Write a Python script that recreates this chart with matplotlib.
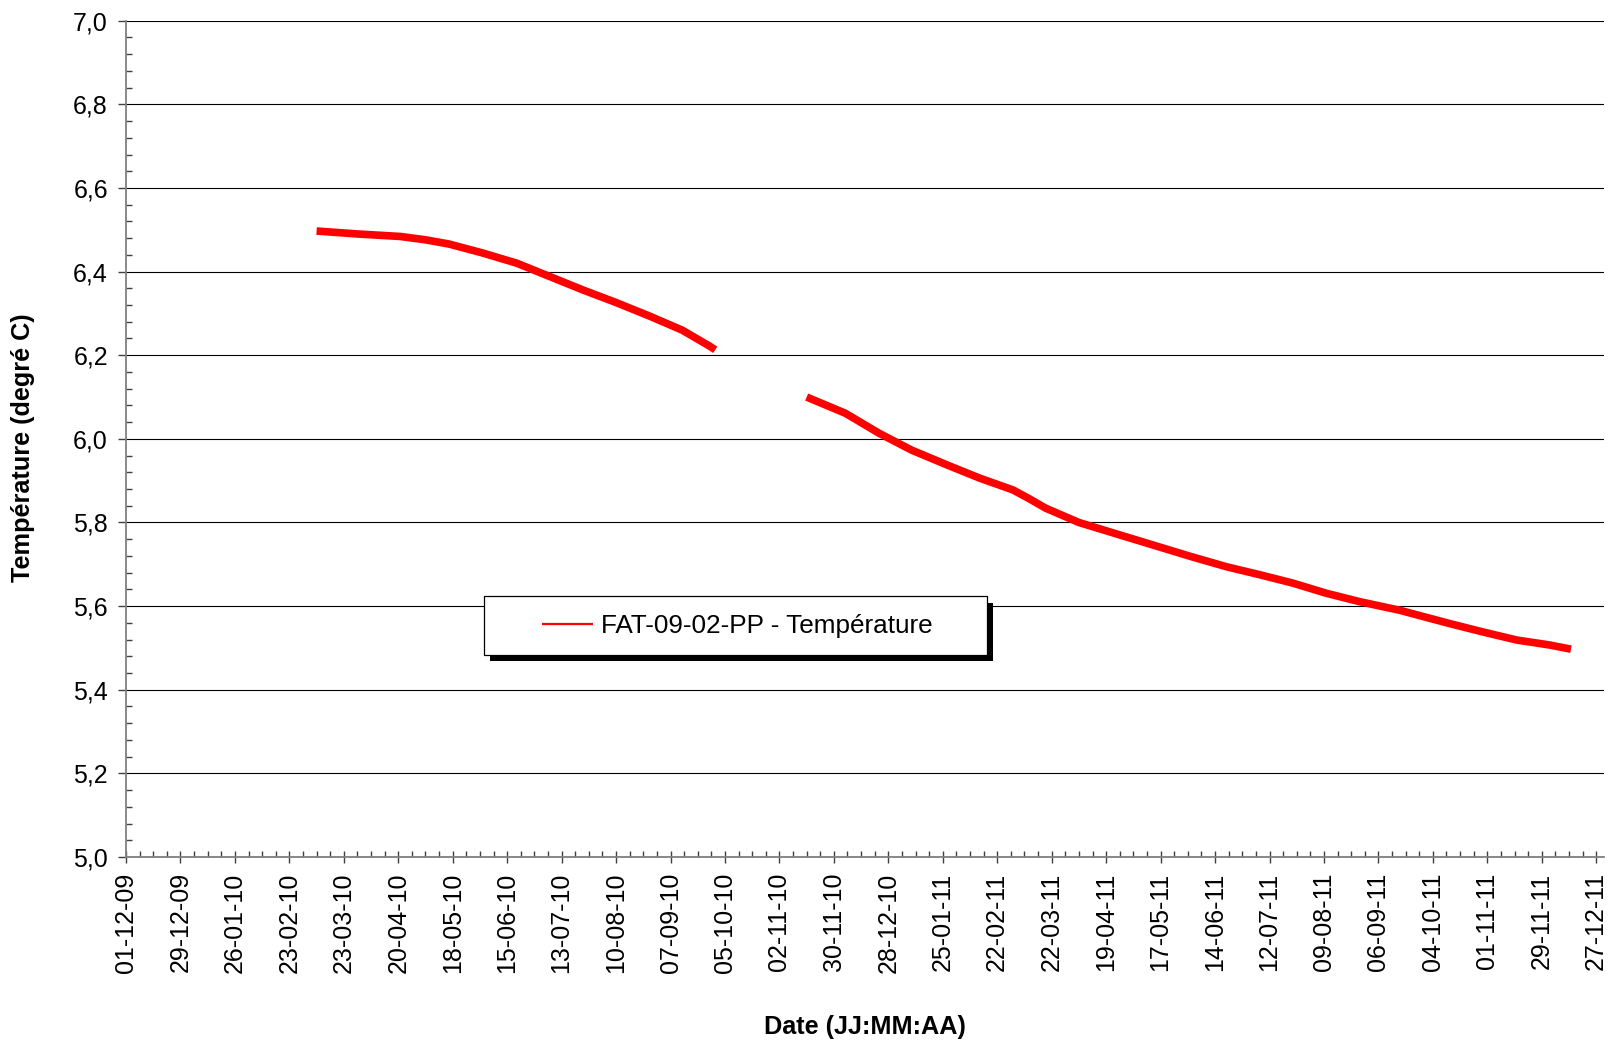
import matplotlib
matplotlib.use("Agg")
import matplotlib.pyplot as plt
import matplotlib.dates as mdates
from matplotlib.patches import Rectangle
from matplotlib.ticker import FuncFormatter
import numpy as np
import pandas as pd

plt.rcParams['font.family'] = ['Liberation Sans', 'DejaVu Sans']

# Probe temperature readings (degrees C), two logging periods
series_label = "FAT-09-02-PP - Température"

dates_p1 = ["2010-03-09", "2010-03-30", "2010-04-21", "2010-05-04", "2010-05-16",
            "2010-06-02", "2010-06-20", "2010-07-07", "2010-07-24", "2010-08-10",
            "2010-08-27", "2010-09-13", "2010-09-27", "2010-09-30"]
temps_p1 = [6.497, 6.490, 6.484, 6.476, 6.466,
            6.445, 6.420, 6.388, 6.356, 6.326,
            6.294, 6.260, 6.222, 6.213]

dates_p2 = ["2010-11-16", "2010-12-06", "2010-12-23", "2011-01-09", "2011-01-27",
            "2011-02-13", "2011-03-02", "2011-03-10", "2011-03-19", "2011-04-05",
            "2011-04-29", "2011-05-16", "2011-06-02", "2011-06-20", "2011-07-07",
            "2011-07-24", "2011-08-10", "2011-08-27", "2011-09-17", "2011-10-12",
            "2011-10-29", "2011-11-16", "2011-12-03", "2011-12-14"]
temps_p2 = [6.100, 6.061, 6.014, 5.973, 5.938,
            5.906, 5.878, 5.858, 5.834, 5.800,
            5.766, 5.742, 5.718, 5.694, 5.675,
            5.655, 5.631, 5.611, 5.590, 5.559,
            5.539, 5.519, 5.507, 5.497]

x_start, x_end = "2009-12-01", "2011-12-31"
y_min, y_max = 5.0, 7.0

major_dates = pd.date_range(x_start, periods=28, freq="28D")
minor_dates = pd.date_range(x_start, x_end, freq="7D")

fig = plt.figure(figsize=(16.10, 10.43), dpi=100)
ax = fig.add_axes([126 / 1610, 1 - 857 / 1043, 1478 / 1610, 836.3 / 1043])

red = "#FF0000"
line1, = ax.plot(pd.to_datetime(dates_p1), temps_p1, color=red, lw=5.5,
                 solid_capstyle="butt", solid_joinstyle="round",
                 label=series_label, zorder=3)
ax.plot(pd.to_datetime(dates_p2), temps_p2, color=red, lw=5.5,
        solid_capstyle="butt", solid_joinstyle="round", zorder=3)

ax.set_xlim(pd.Timestamp(x_start), pd.Timestamp(x_end))
ax.set_ylim(y_min, y_max)

ax.set_xticks(major_dates)
ax.set_xticks(minor_dates, minor=True)
ax.xaxis.set_major_formatter(mdates.DateFormatter("%d-%m-%y"))

ax.set_yticks(np.round(np.arange(5.0, 7.001, 0.2), 2))
ax.set_yticks(np.round(np.arange(5.0, 7.001, 0.04), 2), minor=True)
ax.yaxis.set_major_formatter(FuncFormatter(lambda v, p: f"{v:.1f}".replace(".", ",")))

tick_col = "#404040"
ax.tick_params(axis="x", which="major", direction="inout", length=8, width=1,
               color=tick_col, labelsize=18, labelrotation=90, pad=7)
ax.tick_params(axis="x", which="minor", direction="in", length=4, width=1, color=tick_col)
ax.tick_params(axis="y", which="major", direction="out", length=6, width=1,
               color=tick_col, labelsize=18, pad=7)
ax.tick_params(axis="y", which="minor", direction="in", length=4.3, width=1, color=tick_col)

ax.yaxis.grid(True, which="major", color="black", lw=0.8)
ax.set_axisbelow(True)

for side in ("top", "right"):
    ax.spines[side].set_visible(False)
for side in ("left", "bottom"):
    ax.spines[side].set_color("#808080")
    ax.spines[side].set_linewidth(1.3)

ax.set_xlabel("Date (JJ:MM:AA)", fontsize=18.2, fontweight="bold")
ax.xaxis.set_label_coords(0.5, (857 - 1027) / 836.3)
ax.xaxis.label.set_va("center")
ax.set_ylabel("Température (degré C)", fontsize=18.2, fontweight="bold")
ax.yaxis.set_label_coords((23 - 126) / 1478, 0.49)
ax.yaxis.label.set_va("center")

# Legend box with a solid drop shadow
bx, by, bw, bh = 0.242, 0.2415, 0.3403, 0.070
ax.add_patch(Rectangle((bx + 0.0041, by - 0.0072), bw, bh, transform=ax.transAxes,
                       facecolor="black", edgecolor="none", zorder=4, clip_on=False))
ax.add_patch(Rectangle((bx, by), bw, bh, transform=ax.transAxes,
                       facecolor="white", edgecolor="black", lw=0.9, zorder=4.5,
                       clip_on=False))
leg = ax.legend(handles=[line1], loc="center left",
                bbox_to_anchor=((542 - 126) / 1478, by + bh / 2),
                frameon=False, fontsize=18.8, borderpad=0, borderaxespad=0,
                handlelength=1.95, handletextpad=0.3)
leg.set_zorder(5)
for hl in leg.get_lines():
    hl.set_linewidth(1.6)

fig.savefig("out.png", dpi=100)
